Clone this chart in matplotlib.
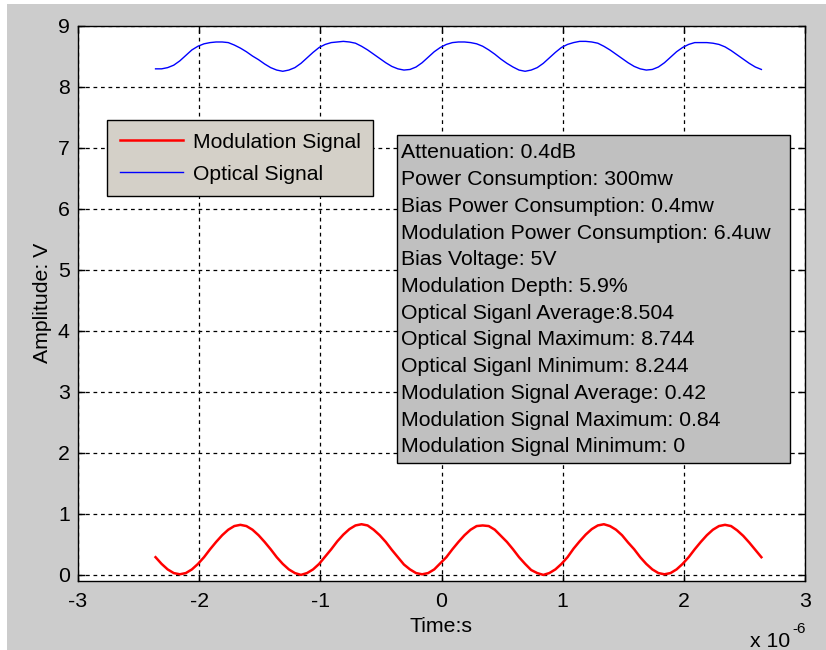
import numpy as np
import matplotlib
matplotlib.use('Agg')
import matplotlib.pyplot as plt
from matplotlib.patches import Rectangle

plt.rcParams['font.family'] = ['Liberation Sans', 'DejaVu Sans']

# evenly sampled time axis, units of 1e-6 s
t_us = np.linspace(-2.36, 2.64, 101)

v_mod = [0.29, 0.18, 0.09, 0.03,
         0.01, 0.03, 0.09, 0.18, 0.29, 0.42, 0.54, 0.65, 0.74, 0.80,
         0.82, 0.80, 0.74, 0.65, 0.54, 0.42, 0.29, 0.18, 0.09, 0.03,
         0.00, 0.03, 0.09, 0.18, 0.30, 0.42, 0.55, 0.66, 0.75, 0.81,
         0.83, 0.81, 0.74, 0.65, 0.54, 0.41, 0.29, 0.17, 0.09, 0.03,
         0.01, 0.03, 0.09, 0.19, 0.29, 0.42, 0.54, 0.65, 0.74, 0.80,
         0.81, 0.80, 0.74, 0.64, 0.54, 0.42, 0.29, 0.18, 0.08, 0.03,
         0.00, 0.03, 0.09, 0.18, 0.29, 0.43, 0.55, 0.66, 0.75, 0.81,
         0.83, 0.80, 0.74, 0.65, 0.53, 0.42, 0.29, 0.18, 0.09, 0.03,
         0.01, 0.03, 0.09, 0.18, 0.29, 0.42, 0.54, 0.65, 0.74, 0.80,
         0.82, 0.80, 0.73, 0.64, 0.53, 0.41, 0.29]

v_opt = [8.29, 8.29, 8.31, 8.35, 8.42, 8.51, 8.60, 8.66, 8.70, 8.72,
         8.73, 8.73, 8.72, 8.68, 8.63, 8.57, 8.50, 8.44, 8.37, 8.31, 8.27,
         8.25, 8.27, 8.31, 8.38, 8.47, 8.56, 8.64, 8.69, 8.72, 8.73,
         8.74, 8.73, 8.71, 8.66, 8.60, 8.53, 8.46, 8.39, 8.33, 8.29,
         8.27, 8.28, 8.32, 8.39, 8.48, 8.57, 8.64, 8.69, 8.72, 8.73,
         8.73, 8.72, 8.70, 8.66, 8.60, 8.53, 8.45, 8.38, 8.32, 8.27,
         8.25, 8.27, 8.31, 8.38, 8.47, 8.56, 8.64, 8.69, 8.72, 8.74,
         8.74, 8.73, 8.71, 8.66, 8.60, 8.53, 8.46, 8.39, 8.33, 8.29,
         8.27, 8.28, 8.32, 8.39, 8.48, 8.57, 8.64, 8.69, 8.72, 8.72,
         8.72, 8.71, 8.69, 8.65, 8.59, 8.52, 8.45, 8.38, 8.32, 8.28]

info_lines = [
    'Attenuation: 0.4dB',
    'Power Consumption: 300mw',
    'Bias Power Consumption: 0.4mw',
    'Modulation Power Consumption: 6.4uw',
    'Bias Voltage: 5V',
    'Modulation Depth: 5.9%',
    'Optical Siganl Average:8.504',
    'Optical Signal Maximum: 8.744',
    'Optical Siganl Minimum: 8.244',
    'Modulation Signal Average: 0.42',
    'Modulation Signal Maximum: 0.84',
    'Modulation Signal Minimum: 0',
]

FS = 15.3
W, H = 826, 650
fig = plt.figure(figsize=(W / 100, H / 100), dpi=100, facecolor='#cccccc')
# thin white strips along the top and left edges of the window
fig.patches.append(Rectangle((0, 1 - 4 / H), 1, 4 / H, transform=fig.transFigure,
                             facecolor='white', edgecolor='none'))
fig.patches.append(Rectangle((0, 0), 7 / W, 1, transform=fig.transFigure,
                             facecolor='white', edgecolor='none'))
ax = fig.add_axes([78 / W, 1 - 581 / H, 727 / W, 555.5 / H])

t = t_us * 1e-6
ax.plot(t, v_mod, color='#ff0000', lw=1.8, label='Modulation Signal')
ax.plot(t, v_opt, color='#0000ff', lw=1.0, label='Optical Signal')

ax.set_xlim(-3e-6, 3e-6)
ax.set_ylim(-0.1, 9)
ax.set_xticks(np.arange(-3, 4) * 1e-6)
ax.set_xticklabels([str(i) for i in range(-3, 4)])
ax.set_yticks(range(0, 10))
ax.grid(True, color='black', linestyle=(0, (3, 3)), linewidth=0.9)
ax.tick_params(direction='in', top=True, right=True, labelsize=FS, length=5, width=1)
ax.tick_params(axis='x', pad=8)
ax.tick_params(axis='y', pad=6)
for sp in ax.spines.values():
    sp.set_linewidth(1)

ax.set_xlabel('Time:s', fontsize=FS, labelpad=4)
ax.set_ylabel('Amplitude: V', fontsize=FS, labelpad=4)
fig.text(750 / W, 1 - 647 / H, 'x 10', fontsize=FS, va='baseline')
fig.text(792 / W, 1 - 633 / H, '-6', fontsize=11, va='baseline')

leg = ax.legend(loc='upper left', bbox_to_anchor=(0.04, 0.83), fontsize=15.2,
                fancybox=False, framealpha=1, facecolor='#d4d0c8',
                edgecolor='black', handlelength=3.0, handletextpad=0.45,
                borderpad=0.6, labelspacing=0.62, borderaxespad=0)
leg.get_frame().set_linewidth(1)

# statistics box
bx0, by0, bx1, by1 = 397, 135, 790, 463
ax.add_patch(Rectangle((bx0 / W, 1 - by1 / H), (bx1 - bx0) / W, (by1 - by0) / H,
                       transform=fig.transFigure, facecolor='#c0c0c0',
                       edgecolor='black', linewidth=1, zorder=5, clip_on=False))
for i, line in enumerate(info_lines):
    fig.text(401 / W, 1 - (153 + i * 26.7) / H, line, fontsize=FS,
             va='center', ha='left', zorder=6)

fig.savefig('out.png', dpi=100, facecolor=fig.get_facecolor())
